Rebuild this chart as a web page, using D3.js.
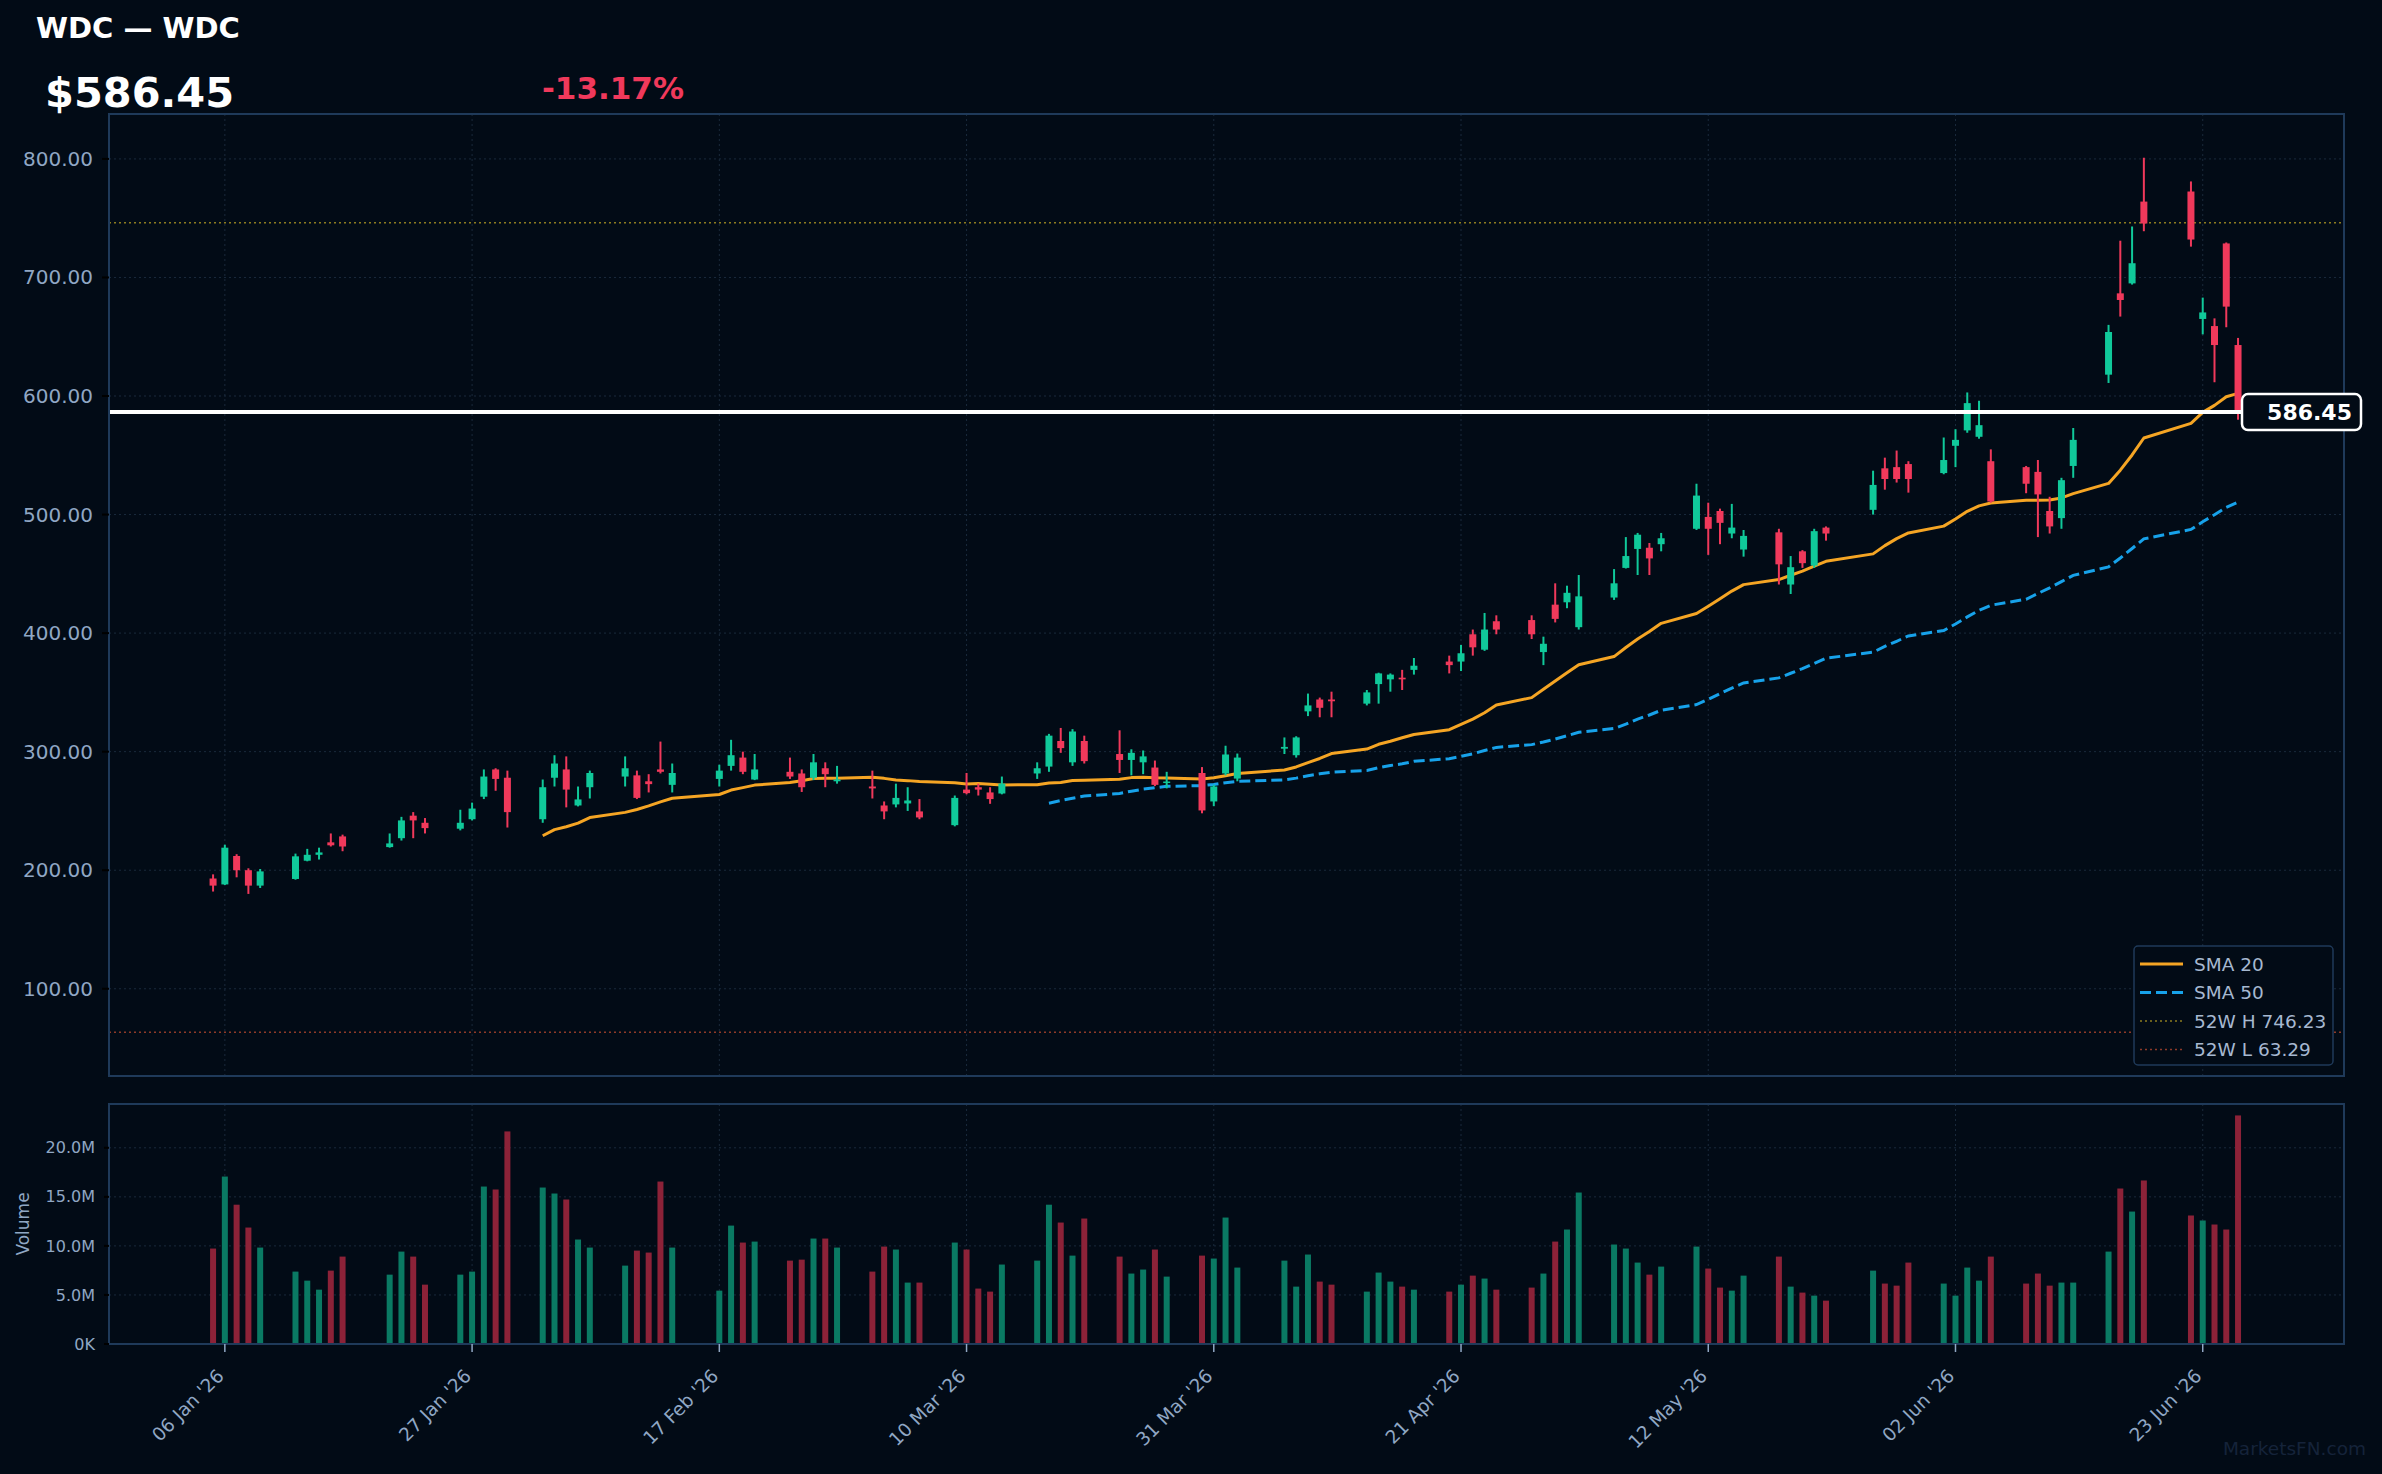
<!DOCTYPE html>
<html><head><meta charset="utf-8">
<script src="https://cdn.jsdelivr.net/npm/d3@7"></script>
<style>
html,body{margin:0;padding:0;background:#020b16;}
svg{display:block;font-family:"DejaVu Sans",sans-serif;}
</style></head><body>
<svg id="chart" width="2382" height="1474"></svg>
<script>
const ticker = "WDC";
const companyName = "WDC";
const dates = [
"2026-01-05","2026-01-06","2026-01-07","2026-01-08","2026-01-09",
"2026-01-12","2026-01-13","2026-01-14","2026-01-15","2026-01-16",
"2026-01-20","2026-01-21","2026-01-22","2026-01-23",
"2026-01-26","2026-01-27","2026-01-28","2026-01-29","2026-01-30",
"2026-02-02","2026-02-03","2026-02-04","2026-02-05","2026-02-06",
"2026-02-09","2026-02-10","2026-02-11","2026-02-12","2026-02-13",
"2026-02-17","2026-02-18","2026-02-19","2026-02-20",
"2026-02-23","2026-02-24","2026-02-25","2026-02-26","2026-02-27",
"2026-03-02","2026-03-03","2026-03-04","2026-03-05","2026-03-06",
"2026-03-09","2026-03-10","2026-03-11","2026-03-12","2026-03-13",
"2026-03-16","2026-03-17","2026-03-18","2026-03-19","2026-03-20",
"2026-03-23","2026-03-24","2026-03-25","2026-03-26","2026-03-27",
"2026-03-30","2026-03-31","2026-04-01","2026-04-02",
"2026-04-06","2026-04-07","2026-04-08","2026-04-09","2026-04-10",
"2026-04-13","2026-04-14","2026-04-15","2026-04-16","2026-04-17",
"2026-04-20","2026-04-21","2026-04-22","2026-04-23","2026-04-24",
"2026-04-27","2026-04-28","2026-04-29","2026-04-30","2026-05-01",
"2026-05-04","2026-05-05","2026-05-06","2026-05-07","2026-05-08",
"2026-05-11","2026-05-12","2026-05-13","2026-05-14","2026-05-15",
"2026-05-18","2026-05-19","2026-05-20","2026-05-21","2026-05-22",
"2026-05-26","2026-05-27","2026-05-28","2026-05-29",
"2026-06-01","2026-06-02","2026-06-03","2026-06-04","2026-06-05",
"2026-06-08","2026-06-09","2026-06-10","2026-06-11","2026-06-12",
"2026-06-15","2026-06-16","2026-06-17","2026-06-18",
"2026-06-22","2026-06-23","2026-06-24","2026-06-25","2026-06-26"];
const opens = [
193,188,212,200,187,
192.6,208,213,223.5,228.5,
219.5,227,246,240,
235,243,262,285,278,
243,278,285,254.6,270,
279,280,275,285,272,
277,288,295,276.5,
283,281.6,278,286,275,
270.6,254.6,255.5,256.3,249.6,
238,268,270,265.6,264.7,
281.6,287.4,309,291,309,
298,293,291,286.6,274.2,
282,258,281.6,277.3,
302.5,297,334,344,344,
340.5,357,361,362.4,369,
376,376,399,386,410,
411,384,424,426,405,
430,455,471,472,475,
488,498,503,484,470.5,
485,441,469,457,489,
504,539,540,542.6,
535,558,571,565.6,545,
540,536,503,497,541,
618,686.6,695,764,
772.5,665,659,728.7,643];
const highs = [
196.5,221.5,213.5,201.6,201,
214,218,219,231,230,
231,245,249,244,
251,257,285,286,284,
276.5,297,296,270.6,284,
296,284,281,308.5,290,
289,310,300,298,
295,285,298,291,288,
284,258,273,270,260,
263,282,273,270,279,
291,315,320,319,313.5,
318,302,301,292.5,283,
287,272,305,298.4,
312,313,349,345.6,350.6,
352,366.6,366,369,379,
381,390,403,417,415,
415,397,442,440,449,
454,481,484.5,476,484.5,
526,510,505,509,487,
488,465,470,488,490,
537,548,554,545,
565,572,603,596,555,
541,546,515,531,573,
660,731,743,801,
781,683,665.5,729.5,649];
const lows = [
182,187.5,194,180,185,
192,207.5,209,220,216,
219,225,227,231,
233.6,242,260,267,236,
240,270.6,253,253.8,260.5,
270.6,260,265.6,281.6,265.6,
270.6,284,281,276,
277,266,276,270,273,
260.5,243,253,250,243,
237,264,263,256,264,
277,283,299,288,290,
282,280,281,271,269,
248,254,280,275,
298,295,330,329,329,
339,340.5,350.6,352,365,
366,368,381,385,399,
395,373,409,421,403,
428,454.5,449,449,469,
487,466,475,480,464.5,
441,433,455,455,478,
500,521,527,518.5,
534,540,569,564,510,
518,481,484,488,531,
611,667,694,739,
726,652,611.6,658,580];
const closes = [
187,219,200,187,199,
211.7,213,215,221,220,
222.6,242,242,235.5,
240,252,279,277,249,
270,290,268,259.7,282,
286,261,272.6,283,282,
284,297,283,285,
279,270,291,281,276.5,
269,249.6,261,258.8,244.5,
261,265,268,260,273,
286,313.5,303,317,292,
293,299,296,272,274.8,
250.4,270.6,297.6,295,
304,312,339,337,342.5,
350,366,365,361,372.5,
373,383,388,403,403,
399,391,412,434,431,
442,465,483,463,480,
516,488,493,489,482,
458,455.6,459,486,484,
525,530,530,530,
546,563,594,575.4,511,
526,517,490,529,563,
654,681,712,745.5,
732,670.5,643,675.4,586.45];
const volumesM = [
9.73,17.07,14.2,11.87,9.83,
7.38,6.46,5.54,7.48,8.91,
7.07,9.42,8.91,6.05,
7.07,7.38,16.05,15.75,21.67,
15.95,15.34,14.73,10.65,9.83,
7.99,9.52,9.32,16.56,9.83,
5.44,12.07,10.34,10.44,
8.5,8.6,10.75,10.75,9.83,
7.38,9.93,9.63,6.26,6.26,
10.34,9.63,5.65,5.34,8.1,
8.5,14.2,12.38,9.01,12.79,
8.91,7.18,7.59,9.63,6.87,
9.01,8.71,12.89,7.79,
8.5,5.85,9.12,6.36,6.05,
5.34,7.28,6.36,5.85,5.54,
5.34,6.05,6.97,6.67,5.54,
5.75,7.18,10.44,11.67,15.44,
10.14,9.73,8.3,7.07,7.89,
9.93,7.69,5.75,5.44,6.97,
8.91,5.85,5.24,4.93,4.42,
7.48,6.16,5.95,8.3,
6.16,4.93,7.79,6.46,8.91,
6.16,7.18,5.95,6.26,6.26,
9.42,15.85,13.5,16.67,
13.1,12.59,12.18,11.67,23.3];
const high52w = 746.23;
const low52w = 63.29;
const smaPeriods = [20, 50];
const priceTicks = [100,200,300,400,500,600,700,800];
const volumeTicks = [0,5,10,15,20];
const dateTicks = ["2026-01-06","2026-01-27","2026-02-17","2026-03-10","2026-03-31","2026-04-21","2026-05-12","2026-06-02","2026-06-23"];
const legendLabels = ["SMA 20","SMA 50","52W H 746.23","52W L 63.29"];

// ---- styling / layout ----
const C = {
  bg:"#020b16", frame:"#1f3a5a", grid:"#1a2a3c", tick:"#90a7c4",
  up:"#10c99a", down:"#f0395b", upVol:"#0a7a63", downVol:"#8c2238",
  sma20:"#f5a524", sma50:"#17a2ea", h52:"#8c7c20", l52:"#8e3a28",
  legendText:"#a6b8d0"
};
const L = {left:109, right:2344, pTop:114, pBot:1076, vTop:1104, vBot:1344};

const parse = d3.utcParse("%Y-%m-%d");
const data = dates.map((d,i)=>({date:parse(d), o:opens[i], h:highs[i], l:lows[i], c:closes[i], v:volumesM[i]}));
const DAY = 864e5;
const first = data[0].date, last = data[data.length-1].date;

const x = d3.scaleUtc()
  .domain([new Date(+first - 8.84*DAY), new Date(+last + 9.0*DAY)])
  .range([L.left, L.right]);
const lo = Math.min(d3.min(lows), low52w), hi = Math.max(d3.max(highs), high52w);
const pad = (hi-lo)*0.05;
const y = d3.scaleLinear().domain([lo-pad, hi+pad]).range([L.pBot, L.pTop]);
const yv = d3.scaleLinear().domain([0, d3.max(volumesM)*1.05]).range([L.vBot, L.vTop]);

const svg = d3.select("#chart");
svg.append("rect").attr("width",2382).attr("height",1474).attr("fill",C.bg);

const defs = svg.append("defs");
defs.append("clipPath").attr("id","pclip").append("rect")
  .attr("x",L.left).attr("y",L.pTop).attr("width",L.right-L.left).attr("height",L.pBot-L.pTop);

// grids
const tickDates = dateTicks.map(parse);
const gp = svg.append("g").attr("stroke",C.grid).attr("stroke-width",1).attr("stroke-dasharray","2,3");
priceTicks.forEach(t=>gp.append("line").attr("x1",L.left).attr("x2",L.right).attr("y1",y(t)).attr("y2",y(t)));
tickDates.forEach(t=>{
  gp.append("line").attr("x1",x(t)).attr("x2",x(t)).attr("y1",L.pTop).attr("y2",L.pBot);
  gp.append("line").attr("x1",x(t)).attr("x2",x(t)).attr("y1",L.vTop).attr("y2",L.vBot);
});
volumeTicks.slice(1).forEach(t=>gp.append("line").attr("x1",L.left).attr("x2",L.right).attr("y1",yv(t)).attr("y2",yv(t)));

// 52w lines
const pg = svg.append("g").attr("clip-path","url(#pclip)");
pg.append("line").attr("x1",L.left).attr("x2",L.right).attr("y1",y(high52w)).attr("y2",y(high52w))
  .attr("stroke",C.h52).attr("stroke-width",1.5).attr("stroke-dasharray","2,3");
pg.append("line").attr("x1",L.left).attr("x2",L.right).attr("y1",y(low52w)).attr("y2",y(low52w))
  .attr("stroke",C.l52).attr("stroke-width",1.5).attr("stroke-dasharray","2,3");

// SMAs
function sma(n){ return data.map((d,i)=> i<n-1 ? null : {date:d.date, v:d3.mean(closes.slice(i-n+1,i+1))}).filter(Boolean); }
const line = d3.line().x(d=>x(d.date)).y(d=>y(d.v));
pg.append("path").datum(sma(smaPeriods[0])).attr("d",line).attr("fill","none")
  .attr("stroke",C.sma20).attr("stroke-width",3).attr("stroke-linejoin","round");
pg.append("path").datum(sma(smaPeriods[1])).attr("d",line).attr("fill","none")
  .attr("stroke",C.sma50).attr("stroke-width",3).attr("stroke-dasharray","11,5");

// candles
const bw = 7;
const cg = pg.append("g");
data.forEach(d=>{
  const col = d.c>=d.o ? C.up : C.down;
  const cx = x(d.date);
  cg.append("line").attr("x1",cx).attr("x2",cx).attr("y1",y(d.h)).attr("y2",y(d.l))
    .attr("stroke",col).attr("stroke-width",2);
  const top = y(Math.max(d.o,d.c)), bot = y(Math.min(d.o,d.c));
  cg.append("rect").attr("x",cx-bw/2).attr("y",top).attr("width",bw).attr("height",Math.max(1.5,bot-top)).attr("fill",col);
});

// current price line
const lastClose = closes[closes.length-1];
const prevClose = closes[closes.length-2];
const tagX = 2242;
svg.append("line").attr("x1",L.left).attr("x2",tagX).attr("y1",y(lastClose)).attr("y2",y(lastClose))
  .attr("stroke","#ffffff").attr("stroke-width",4);

// volume bars
const vw = 6;
svg.append("g").selectAll("rect").data(data).join("rect")
  .attr("x",d=>x(d.date)-vw/2).attr("y",d=>yv(d.v)).attr("width",vw).attr("height",d=>yv(0)-yv(d.v))
  .attr("fill",d=>d.c>=d.o?C.upVol:C.downVol);

// frames
svg.append("rect").attr("x",L.left).attr("y",L.pTop).attr("width",L.right-L.left).attr("height",L.pBot-L.pTop)
  .attr("fill","none").attr("stroke",C.frame).attr("stroke-width",2);
svg.append("rect").attr("x",L.left).attr("y",L.vTop).attr("width",L.right-L.left).attr("height",L.vBot-L.vTop)
  .attr("fill","none").attr("stroke",C.frame).attr("stroke-width",2);

// price axis
const ya = svg.append("g");
priceTicks.forEach(t=>{
  ya.append("line").attr("x1",L.left-7).attr("x2",L.left).attr("y1",y(t)).attr("y2",y(t)).attr("stroke","#000").attr("stroke-width",2);
  ya.append("text").attr("x",L.left-16).attr("y",y(t)).attr("dy","0.35em").attr("text-anchor","end")
    .attr("fill",C.tick).attr("font-size",20).text(d3.format(".2f")(t));
});
// volume axis
const va = svg.append("g");
volumeTicks.forEach(t=>{
  va.append("line").attr("x1",L.left-5).attr("x2",L.left).attr("y1",yv(t)).attr("y2",yv(t)).attr("stroke","#000").attr("stroke-width",2);
  va.append("text").attr("x",L.left-14).attr("y",yv(t)).attr("dy","0.35em").attr("text-anchor","end")
    .attr("fill",C.tick).attr("font-size",16).text(t===0?"0K":t.toFixed(1)+"M");
});
svg.append("text").attr("transform",`translate(29,${(L.vTop+L.vBot)/2}) rotate(-90)`).attr("text-anchor","middle")
  .attr("fill",C.tick).attr("font-size",17).text("Volume");

// date axis
const fmt = d3.utcFormat("%d %b '%y");
const xa = svg.append("g");
tickDates.forEach(t=>{
  xa.append("line").attr("x1",x(t)).attr("x2",x(t)).attr("y1",L.vBot).attr("y2",L.vBot+8).attr("stroke",C.tick).attr("stroke-width",1.5);
  xa.append("text").attr("transform",`translate(${x(t)-9},${L.vBot+24}) rotate(-45)`)
    .attr("text-anchor","end").attr("dy","0.7em").attr("fill",C.tick).attr("font-size",18.5).text(fmt(t));
});

// price tag
const ty = y(lastClose);
svg.append("rect").attr("x",tagX).attr("y",ty-18).attr("width",119).attr("height",36).attr("rx",6)
  .attr("fill",C.bg).attr("stroke","#ffffff").attr("stroke-width",2.5);
svg.append("text").attr("x",2352).attr("y",ty).attr("dy","0.36em").attr("text-anchor","end")
  .attr("fill","#ffffff").attr("font-size",22).attr("font-weight","bold").text(lastClose.toFixed(2));

// legend
const lg = svg.append("g");
lg.append("rect").attr("x",2134).attr("y",946).attr("width",199).attr("height",119).attr("rx",4)
  .attr("fill",C.bg).attr("stroke",C.frame).attr("stroke-width",1.5);
const lstyles = [
  {c:C.sma20, w:3, dash:null},
  {c:C.sma50, w:3, dash:"11,5"},
  {c:C.h52, w:1.5, dash:"2,3"},
  {c:C.l52, w:1.5, dash:"2,3"}];
legendLabels.forEach((lab,i)=>{
  const ly = 964 + i*28.5;
  const ln = lg.append("line").attr("x1",2140).attr("x2",2183).attr("y1",ly).attr("y2",ly)
    .attr("stroke",lstyles[i].c).attr("stroke-width",lstyles[i].w);
  if(lstyles[i].dash) ln.attr("stroke-dasharray",lstyles[i].dash);
  lg.append("text").attr("x",2194).attr("y",ly).attr("dy","0.36em").attr("fill",C.legendText)
    .attr("font-size",18.5).text(lab);
});

// header
svg.append("text").attr("x",36).attr("y",38).attr("fill","#ffffff").attr("font-size",29).attr("font-weight","bold")
  .text(`${ticker} — ${companyName}`);
svg.append("text").attr("x",45).attr("y",107).attr("fill","#ffffff").attr("font-size",41.5).attr("font-weight","bold")
  .text("$"+lastClose.toFixed(2));
const pct = (lastClose-prevClose)/prevClose*100;
svg.append("text").attr("x",542).attr("y",99).attr("fill",pct<0?C.down:C.up).attr("font-size",31).attr("font-weight","bold")
  .text((pct>=0?"+":"")+pct.toFixed(2)+"%");

// watermark
svg.append("text").attr("x",2366).attr("y",1455).attr("text-anchor","end").attr("fill","#15233a")
  .attr("font-size",18.5).text("MarketsFN.com");
</script>
</body></html>
